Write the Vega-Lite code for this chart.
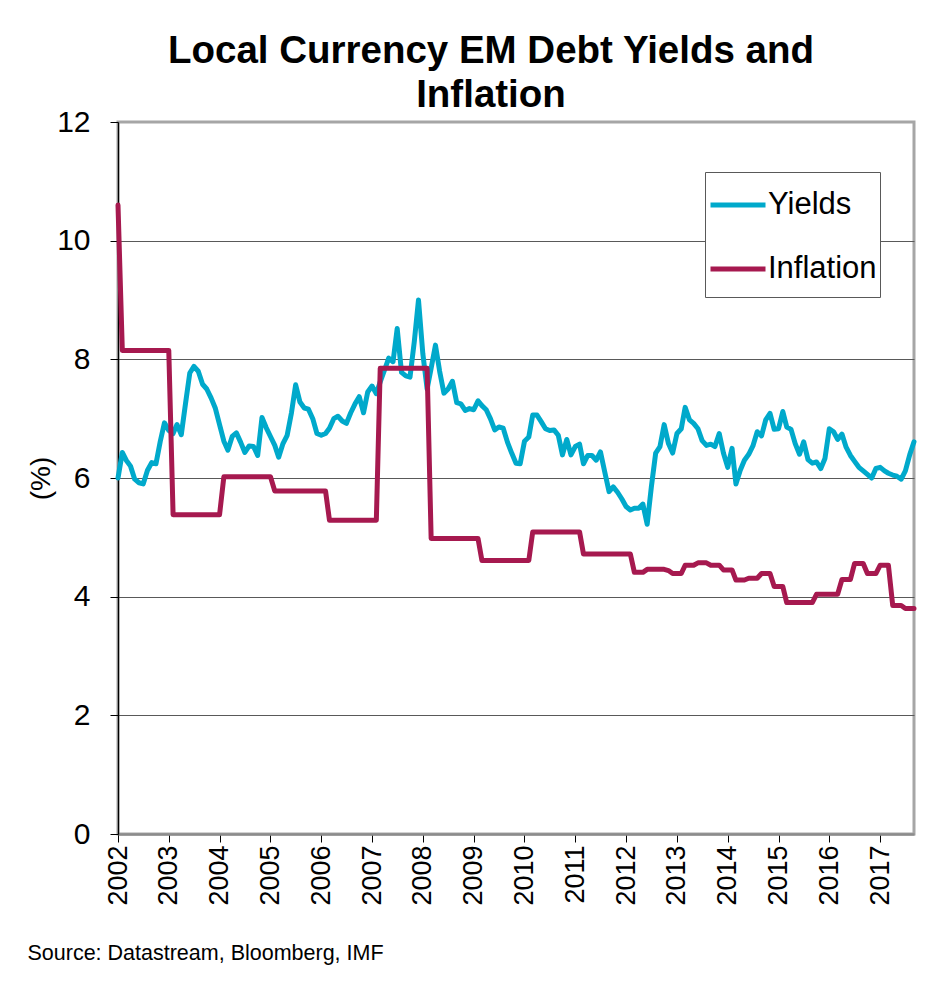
{
  "$schema": "https://vega.github.io/schema/vega-lite/v6.json",
  "width": 796,
  "height": 712,
  "autosize": {"type": "none"},
  "padding": {"left": 118, "top": 122, "right": 30, "bottom": 163},
  "background": "white",
  "config": {
    "font": "Liberation Sans",
    "view": {"stroke": "#a6a6a6", "strokeWidth": 3}
  },
  "title": {
    "text": ["Local Currency EM Debt Yields and", "Inflation"],
    "font": "Liberation Sans",
    "fontSize": 38.5,
    "fontWeight": "bold",
    "color": "black",
    "lineHeight": 44,
    "anchor": "middle",
    "frame": "group",
    "dx": -25,
    "dy": 22,
    "offset": 14
  },
  "data": {
    "values": [
      {"date": "2002-01-01", "Yields": 6.00, "Inflation": 10.6},
      {"date": "2002-02-01", "Yields": 6.43, "Inflation": 8.15},
      {"date": "2002-03-01", "Yields": 6.30, "Inflation": 8.15},
      {"date": "2002-04-01", "Yields": 6.20, "Inflation": 8.15},
      {"date": "2002-05-01", "Yields": 5.98, "Inflation": 8.15},
      {"date": "2002-06-01", "Yields": 5.92, "Inflation": 8.15},
      {"date": "2002-07-01", "Yields": 5.90, "Inflation": 8.15},
      {"date": "2002-08-01", "Yields": 6.13, "Inflation": 8.15},
      {"date": "2002-09-01", "Yields": 6.26, "Inflation": 8.15},
      {"date": "2002-10-01", "Yields": 6.24, "Inflation": 8.15},
      {"date": "2002-11-01", "Yields": 6.62, "Inflation": 8.15},
      {"date": "2002-12-01", "Yields": 6.93, "Inflation": 8.15},
      {"date": "2003-01-01", "Yields": 6.80, "Inflation": 8.15},
      {"date": "2003-02-01", "Yields": 6.75, "Inflation": 5.38},
      {"date": "2003-03-01", "Yields": 6.90, "Inflation": 5.38},
      {"date": "2003-04-01", "Yields": 6.73, "Inflation": 5.38},
      {"date": "2003-05-01", "Yields": 7.25, "Inflation": 5.38},
      {"date": "2003-06-01", "Yields": 7.77, "Inflation": 5.38},
      {"date": "2003-07-01", "Yields": 7.88, "Inflation": 5.38},
      {"date": "2003-08-01", "Yields": 7.80, "Inflation": 5.38},
      {"date": "2003-09-01", "Yields": 7.58, "Inflation": 5.38},
      {"date": "2003-10-01", "Yields": 7.50, "Inflation": 5.38},
      {"date": "2003-11-01", "Yields": 7.35, "Inflation": 5.38},
      {"date": "2003-12-01", "Yields": 7.18, "Inflation": 5.38},
      {"date": "2004-01-01", "Yields": 6.90, "Inflation": 5.38},
      {"date": "2004-02-01", "Yields": 6.62, "Inflation": 6.02},
      {"date": "2004-03-01", "Yields": 6.47, "Inflation": 6.02},
      {"date": "2004-04-01", "Yields": 6.70, "Inflation": 6.02},
      {"date": "2004-05-01", "Yields": 6.76, "Inflation": 6.02},
      {"date": "2004-06-01", "Yields": 6.60, "Inflation": 6.02},
      {"date": "2004-07-01", "Yields": 6.43, "Inflation": 6.02},
      {"date": "2004-08-01", "Yields": 6.54, "Inflation": 6.02},
      {"date": "2004-09-01", "Yields": 6.53, "Inflation": 6.02},
      {"date": "2004-10-01", "Yields": 6.38, "Inflation": 6.02},
      {"date": "2004-11-01", "Yields": 7.02, "Inflation": 6.02},
      {"date": "2004-12-01", "Yields": 6.85, "Inflation": 6.02},
      {"date": "2005-01-01", "Yields": 6.70, "Inflation": 6.02},
      {"date": "2005-02-01", "Yields": 6.55, "Inflation": 5.78},
      {"date": "2005-03-01", "Yields": 6.35, "Inflation": 5.78},
      {"date": "2005-04-01", "Yields": 6.58, "Inflation": 5.78},
      {"date": "2005-05-01", "Yields": 6.72, "Inflation": 5.78},
      {"date": "2005-06-01", "Yields": 7.10, "Inflation": 5.78},
      {"date": "2005-07-01", "Yields": 7.57, "Inflation": 5.78},
      {"date": "2005-08-01", "Yields": 7.28, "Inflation": 5.78},
      {"date": "2005-09-01", "Yields": 7.18, "Inflation": 5.78},
      {"date": "2005-10-01", "Yields": 7.16, "Inflation": 5.78},
      {"date": "2005-11-01", "Yields": 7.00, "Inflation": 5.78},
      {"date": "2005-12-01", "Yields": 6.75, "Inflation": 5.78},
      {"date": "2006-01-01", "Yields": 6.72, "Inflation": 5.78},
      {"date": "2006-02-01", "Yields": 6.75, "Inflation": 5.78},
      {"date": "2006-03-01", "Yields": 6.84, "Inflation": 5.29},
      {"date": "2006-04-01", "Yields": 7.00, "Inflation": 5.29},
      {"date": "2006-05-01", "Yields": 7.04, "Inflation": 5.29},
      {"date": "2006-06-01", "Yields": 6.96, "Inflation": 5.29},
      {"date": "2006-07-01", "Yields": 6.92, "Inflation": 5.29},
      {"date": "2006-08-01", "Yields": 7.10, "Inflation": 5.29},
      {"date": "2006-09-01", "Yields": 7.25, "Inflation": 5.29},
      {"date": "2006-10-01", "Yields": 7.37, "Inflation": 5.29},
      {"date": "2006-11-01", "Yields": 7.10, "Inflation": 5.29},
      {"date": "2006-12-01", "Yields": 7.45, "Inflation": 5.29},
      {"date": "2007-01-01", "Yields": 7.55, "Inflation": 5.29},
      {"date": "2007-02-01", "Yields": 7.42, "Inflation": 5.29},
      {"date": "2007-03-01", "Yields": 7.62, "Inflation": 7.85},
      {"date": "2007-04-01", "Yields": 7.82, "Inflation": 7.85},
      {"date": "2007-05-01", "Yields": 8.02, "Inflation": 7.85},
      {"date": "2007-06-01", "Yields": 7.96, "Inflation": 7.85},
      {"date": "2007-07-01", "Yields": 8.52, "Inflation": 7.85},
      {"date": "2007-08-01", "Yields": 7.78, "Inflation": 7.85},
      {"date": "2007-09-01", "Yields": 7.72, "Inflation": 7.85},
      {"date": "2007-10-01", "Yields": 7.70, "Inflation": 7.85},
      {"date": "2007-11-01", "Yields": 8.30, "Inflation": 7.85},
      {"date": "2007-12-01", "Yields": 9.00, "Inflation": 7.85},
      {"date": "2008-01-01", "Yields": 8.10, "Inflation": 7.85},
      {"date": "2008-02-01", "Yields": 7.50, "Inflation": 7.85},
      {"date": "2008-03-01", "Yields": 7.85, "Inflation": 4.98},
      {"date": "2008-04-01", "Yields": 8.24, "Inflation": 4.98},
      {"date": "2008-05-01", "Yields": 7.80, "Inflation": 4.98},
      {"date": "2008-06-01", "Yields": 7.43, "Inflation": 4.98},
      {"date": "2008-07-01", "Yields": 7.50, "Inflation": 4.98},
      {"date": "2008-08-01", "Yields": 7.63, "Inflation": 4.98},
      {"date": "2008-09-01", "Yields": 7.27, "Inflation": 4.98},
      {"date": "2008-10-01", "Yields": 7.25, "Inflation": 4.98},
      {"date": "2008-11-01", "Yields": 7.14, "Inflation": 4.98},
      {"date": "2008-12-01", "Yields": 7.17, "Inflation": 4.98},
      {"date": "2009-01-01", "Yields": 7.15, "Inflation": 4.98},
      {"date": "2009-02-01", "Yields": 7.30, "Inflation": 4.98},
      {"date": "2009-03-01", "Yields": 7.22, "Inflation": 4.61},
      {"date": "2009-04-01", "Yields": 7.15, "Inflation": 4.61},
      {"date": "2009-05-01", "Yields": 7.00, "Inflation": 4.61},
      {"date": "2009-06-01", "Yields": 6.81, "Inflation": 4.61},
      {"date": "2009-07-01", "Yields": 6.86, "Inflation": 4.61},
      {"date": "2009-08-01", "Yields": 6.84, "Inflation": 4.61},
      {"date": "2009-09-01", "Yields": 6.60, "Inflation": 4.61},
      {"date": "2009-10-01", "Yields": 6.42, "Inflation": 4.61},
      {"date": "2009-11-01", "Yields": 6.25, "Inflation": 4.61},
      {"date": "2009-12-01", "Yields": 6.24, "Inflation": 4.61},
      {"date": "2010-01-01", "Yields": 6.62, "Inflation": 4.61},
      {"date": "2010-02-01", "Yields": 6.69, "Inflation": 4.61},
      {"date": "2010-03-01", "Yields": 7.06, "Inflation": 5.09},
      {"date": "2010-04-01", "Yields": 7.06, "Inflation": 5.09},
      {"date": "2010-05-01", "Yields": 6.95, "Inflation": 5.09},
      {"date": "2010-06-01", "Yields": 6.83, "Inflation": 5.09},
      {"date": "2010-07-01", "Yields": 6.80, "Inflation": 5.09},
      {"date": "2010-08-01", "Yields": 6.81, "Inflation": 5.09},
      {"date": "2010-09-01", "Yields": 6.72, "Inflation": 5.09},
      {"date": "2010-10-01", "Yields": 6.39, "Inflation": 5.09},
      {"date": "2010-11-01", "Yields": 6.65, "Inflation": 5.09},
      {"date": "2010-12-01", "Yields": 6.39, "Inflation": 5.09},
      {"date": "2011-01-01", "Yields": 6.53, "Inflation": 5.09},
      {"date": "2011-02-01", "Yields": 6.57, "Inflation": 5.09},
      {"date": "2011-03-01", "Yields": 6.24, "Inflation": 4.72},
      {"date": "2011-04-01", "Yields": 6.38, "Inflation": 4.72},
      {"date": "2011-05-01", "Yields": 6.38, "Inflation": 4.72},
      {"date": "2011-06-01", "Yields": 6.30, "Inflation": 4.72},
      {"date": "2011-07-01", "Yields": 6.44, "Inflation": 4.72},
      {"date": "2011-08-01", "Yields": 6.10, "Inflation": 4.72},
      {"date": "2011-09-01", "Yields": 5.77, "Inflation": 4.72},
      {"date": "2011-10-01", "Yields": 5.85, "Inflation": 4.72},
      {"date": "2011-11-01", "Yields": 5.76, "Inflation": 4.72},
      {"date": "2011-12-01", "Yields": 5.65, "Inflation": 4.72},
      {"date": "2012-01-01", "Yields": 5.52, "Inflation": 4.72},
      {"date": "2012-02-01", "Yields": 5.46, "Inflation": 4.72},
      {"date": "2012-03-01", "Yields": 5.49, "Inflation": 4.41},
      {"date": "2012-04-01", "Yields": 5.49, "Inflation": 4.41},
      {"date": "2012-05-01", "Yields": 5.56, "Inflation": 4.41},
      {"date": "2012-06-01", "Yields": 5.22, "Inflation": 4.46},
      {"date": "2012-07-01", "Yields": 5.85, "Inflation": 4.46},
      {"date": "2012-08-01", "Yields": 6.42, "Inflation": 4.46},
      {"date": "2012-09-01", "Yields": 6.53, "Inflation": 4.46},
      {"date": "2012-10-01", "Yields": 6.90, "Inflation": 4.46},
      {"date": "2012-11-01", "Yields": 6.58, "Inflation": 4.44},
      {"date": "2012-12-01", "Yields": 6.42, "Inflation": 4.39},
      {"date": "2013-01-01", "Yields": 6.75, "Inflation": 4.39},
      {"date": "2013-02-01", "Yields": 6.83, "Inflation": 4.39},
      {"date": "2013-03-01", "Yields": 7.19, "Inflation": 4.53},
      {"date": "2013-04-01", "Yields": 6.98, "Inflation": 4.53},
      {"date": "2013-05-01", "Yields": 6.92, "Inflation": 4.53},
      {"date": "2013-06-01", "Yields": 6.83, "Inflation": 4.57},
      {"date": "2013-07-01", "Yields": 6.63, "Inflation": 4.57},
      {"date": "2013-08-01", "Yields": 6.55, "Inflation": 4.57},
      {"date": "2013-09-01", "Yields": 6.57, "Inflation": 4.53},
      {"date": "2013-10-01", "Yields": 6.53, "Inflation": 4.53},
      {"date": "2013-11-01", "Yields": 6.75, "Inflation": 4.53},
      {"date": "2013-12-01", "Yields": 6.42, "Inflation": 4.45},
      {"date": "2014-01-01", "Yields": 6.18, "Inflation": 4.45},
      {"date": "2014-02-01", "Yields": 6.50, "Inflation": 4.45},
      {"date": "2014-03-01", "Yields": 5.90, "Inflation": 4.28},
      {"date": "2014-04-01", "Yields": 6.13, "Inflation": 4.28},
      {"date": "2014-05-01", "Yields": 6.30, "Inflation": 4.28},
      {"date": "2014-06-01", "Yields": 6.40, "Inflation": 4.31},
      {"date": "2014-07-01", "Yields": 6.54, "Inflation": 4.31},
      {"date": "2014-08-01", "Yields": 6.78, "Inflation": 4.31},
      {"date": "2014-09-01", "Yields": 6.71, "Inflation": 4.39},
      {"date": "2014-10-01", "Yields": 6.98, "Inflation": 4.39},
      {"date": "2014-11-01", "Yields": 7.09, "Inflation": 4.39},
      {"date": "2014-12-01", "Yields": 6.82, "Inflation": 4.17},
      {"date": "2015-01-01", "Yields": 6.83, "Inflation": 4.17},
      {"date": "2015-02-01", "Yields": 7.12, "Inflation": 4.17},
      {"date": "2015-03-01", "Yields": 6.86, "Inflation": 3.90},
      {"date": "2015-04-01", "Yields": 6.82, "Inflation": 3.90},
      {"date": "2015-05-01", "Yields": 6.58, "Inflation": 3.90},
      {"date": "2015-06-01", "Yields": 6.40, "Inflation": 3.90},
      {"date": "2015-07-01", "Yields": 6.61, "Inflation": 3.90},
      {"date": "2015-08-01", "Yields": 6.31, "Inflation": 3.90},
      {"date": "2015-09-01", "Yields": 6.25, "Inflation": 3.90},
      {"date": "2015-10-01", "Yields": 6.27, "Inflation": 4.04},
      {"date": "2015-11-01", "Yields": 6.16, "Inflation": 4.04},
      {"date": "2015-12-01", "Yields": 6.33, "Inflation": 4.04},
      {"date": "2016-01-01", "Yields": 6.83, "Inflation": 4.04},
      {"date": "2016-02-01", "Yields": 6.78, "Inflation": 4.04},
      {"date": "2016-03-01", "Yields": 6.65, "Inflation": 4.04},
      {"date": "2016-04-01", "Yields": 6.74, "Inflation": 4.29},
      {"date": "2016-05-01", "Yields": 6.52, "Inflation": 4.29},
      {"date": "2016-06-01", "Yields": 6.38, "Inflation": 4.29},
      {"date": "2016-07-01", "Yields": 6.28, "Inflation": 4.56},
      {"date": "2016-08-01", "Yields": 6.18, "Inflation": 4.56},
      {"date": "2016-09-01", "Yields": 6.12, "Inflation": 4.56},
      {"date": "2016-10-01", "Yields": 6.06, "Inflation": 4.39},
      {"date": "2016-11-01", "Yields": 6.00, "Inflation": 4.39},
      {"date": "2016-12-01", "Yields": 6.16, "Inflation": 4.39},
      {"date": "2017-01-01", "Yields": 6.18, "Inflation": 4.53},
      {"date": "2017-02-01", "Yields": 6.12, "Inflation": 4.53},
      {"date": "2017-03-01", "Yields": 6.08, "Inflation": 4.53},
      {"date": "2017-04-01", "Yields": 6.05, "Inflation": 3.85},
      {"date": "2017-05-01", "Yields": 6.03, "Inflation": 3.85},
      {"date": "2017-06-01", "Yields": 5.98, "Inflation": 3.85},
      {"date": "2017-07-01", "Yields": 6.12, "Inflation": 3.80},
      {"date": "2017-08-01", "Yields": 6.39, "Inflation": 3.80},
      {"date": "2017-09-01", "Yields": 6.61, "Inflation": 3.80}
    ]
  },
  "transform": [{"fold": ["Yields", "Inflation"], "as": ["series", "value"]}],
  "mark": {"type": "line", "strokeWidth": 5, "strokeJoin": "round", "strokeCap": "round"},
  "encoding": {
    "x": {
      "field": "date",
      "type": "temporal",
      "scale": {"type": "utc", "domain": [{"year": 2002, "month": 1, "date": 1, "utc": true}, {"year": 2017, "month": 9, "date": 1, "utc": true}]},
      "axis": {
        "format": "%Y",
        "tickCount": {"interval": "year", "step": 1},
        "labelAngle": -90,
        "labelFontSize": 27,
        "labelColor": "black",
        "labelPadding": 3,
        "labelFlush": false,
        "labelOverlap": false,
        "tickSize": 8,
        "tickColor": "black",
        "domainColor": "#8c8c8c",
        "domainWidth": 2.5,
        "grid": false,
        "title": "Source: Datastream, Bloomberg, IMF",
        "titleFontSize": 21.5,
        "titleFontWeight": "normal",
        "titleColor": "black",
        "titleAnchor": "start",
        "titleAlign": "left",
        "titleBaseline": "alphabetic",
        "titleX": -91,
        "titleY": 125
      }
    },
    "y": {
      "field": "value",
      "type": "quantitative",
      "scale": {"domain": [0, 12]},
      "axis": {
        "values": [0, 2, 4, 6, 8, 10, 12],
        "title": "(%)",
        "titleFontSize": 28,
        "titleFontWeight": "normal",
        "titleColor": "black",
        "titlePadding": 1,
        "labelFontSize": 30,
        "labelColor": "black",
        "labelPadding": 20,
        "labelFlush": false,
        "tickSize": 8,
        "tickColor": "black",
        "domainColor": "black",
        "domainWidth": 1.3,
        "gridColor": {"condition": {"test": "datum.value === 0 || datum.value === 12", "value": "transparent"}, "value": "#595959"},
        "gridWidth": 1.2
      }
    },
    "color": {
      "field": "series",
      "type": "nominal",
      "scale": {"domain": ["Yields", "Inflation"], "range": ["#00A9CB", "#A6194F"]},
      "legend": {
        "orient": "none",
        "legendX": 587,
        "legendY": 50,
        "title": " ",
        "titleOrient": "bottom",
        "titleFontSize": 10,
        "titlePadding": 0,
        "symbolType": "stroke",
        "symbolSize": 3025,
        "symbolStrokeWidth": 5,
        "labelFontSize": 31,
        "labelColor": "black",
        "labelOffset": 0,
        "rowPadding": 19,
        "padding": 3,
        "strokeColor": "#595959",
        "fillColor": "white"
      }
    }
  }
}
